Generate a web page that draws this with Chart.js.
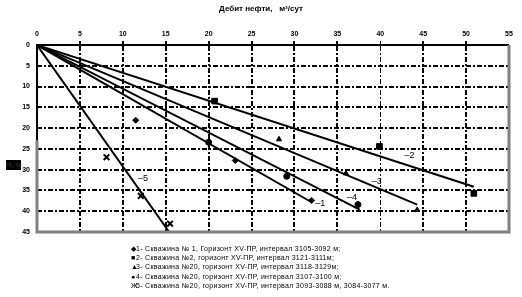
<!DOCTYPE html>
<html>
<head>
<meta charset="utf-8">
<script src="https://cdn.jsdelivr.net/npm/chart.js@4/dist/chart.umd.min.js"></script>
<style>
  html, body { margin: 0; padding: 0; background: #fff; }
  #wrap { width: 522px; height: 297px; }
</style>
</head>
<body>
<div id="wrap"><canvas id="debitChart" width="522" height="297"></canvas></div>
<script>
// measured points (x = дебит, y = глубина)
const s1x = [0, 11.5, 23.1, 32.0];
const s1y = [0, 18.1, 27.8, 37.4];
const s2x = [0, 20.7, 39.9, 50.9];
const s2y = [0, 13.5, 24.4, 35.7];
const s3x = [0, 28.2, 36.0, 44.3];
const s3y = [0, 22.7, 30.9, 39.7];
const s4x = [0, 20.0, 29.1, 37.4];
const s4y = [0, 23.4, 31.6, 38.4];
const s5x = [0, 8.1, 12.1, 15.5];
const s5y = [0, 27.0, 36.3, 43.0];

// trend lines start at origin, end here
const trendEndX = [32.05, 50.9, 44.3, 37.6, 15.4];
const trendEndY = [37.9, 34.1, 38.4, 39.6, 45];
const trendLabels = ["\u20131", "\u20132", "\u20133", "\u20134", "\u20135"];
const trendLabelX = [33.0, 43.4, 39.6, 36.7, 12.35];
const trendLabelY = [38.2, 26.6, 32.9, 36.7, 32.1];

const xTicks = [0, 5, 10, 15, 20, 25, 30, 35, 40, 45, 50, 55];
const yTicks = [0, 5, 10, 15, 20, 25, 30, 35, 40, 45];

const chartTitle = "Дебит нефти,   м³/сут";
const yTitle = "Н, м";
const legendMarks = ["◆", "■", "▲", "●", "Ж"];
const legendTexts = [
  "1- Скважина № 1, Горизонт XV-ПР, интервал 3105-3092 м;",
  "2- Скважина №2, горизонт XV-ПР, интервал 3121-3111м;",
  "3- Скважина №20, горизонт XV-ПР, интервал 3118-3129м;",
  "4- Скважина №20, горизонт XV-ПР, интервал 3107-3100 м;",
  "5- Скважина №20, горизонт XV-ПР, интервал 3093-3088 м, 3084-3077 м."
];

const pts = (xs, ys) => xs.map((x, i) => ({ x: x, y: ys[i] }));
const markerStyles = ["rectRot", "rect", "triangle", "circle", "crossRot"];
const markerSizes = [3, 4, 3, 3, 4];
const series = [pts(s1x, s1y), pts(s2x, s2y), pts(s3x, s3y), pts(s4x, s4y), pts(s5x, s5y)];

const datasets = [];
trendEndX.forEach((x, i) => {
  datasets.push({
    type: "line",
    data: [{ x: 0, y: 0 }, { x: x, y: trendEndY[i] }],
    borderColor: "#000",
    borderWidth: 2,
    pointRadius: 0,
    fill: false
  });
});
series.forEach((d, i) => {
  datasets.push({
    data: d,
    pointStyle: markerStyles[i],
    pointRadius: markerSizes[i],
    pointBackgroundColor: "#000",
    pointBorderColor: "#000",
    pointBorderWidth: i === 4 ? 2 : 1,
    showLine: false
  });
});

const FONT = "'Liberation Sans', Arial, sans-serif";

const extras = {
  id: "extras",
  afterDraw(chart) {
    const { ctx, chartArea: a, scales: { x, y } } = chart;
    ctx.save();
    // grey frame right / bottom / lower left
    ctx.strokeStyle = "#808080";
    ctx.lineWidth = 3;
    ctx.beginPath();
    ctx.moveTo(a.right, a.top);
    ctx.lineTo(a.right, a.bottom);
    ctx.lineTo(a.left, a.bottom);
    ctx.lineTo(a.left, y.getPixelForValue(23));
    ctx.stroke();
    ctx.strokeStyle = "#000";
    ctx.lineWidth = 2;
    ctx.beginPath();
    ctx.moveTo(a.left, a.top);
    ctx.lineTo(a.left, y.getPixelForValue(23));
    ctx.stroke();

    // title
    ctx.fillStyle = "#000";
    ctx.font = "bold 8px " + FONT;
    ctx.textAlign = "center";
    ctx.textBaseline = "middle";
    ctx.fillText(chartTitle, 261, 9);

    // trend labels
    ctx.font = "9px " + FONT;
    trendLabels.forEach((t, i) => {
      ctx.fillText(t, x.getPixelForValue(trendLabelX[i]), y.getPixelForValue(trendLabelY[i]));
    });

    // y axis title (black box)
    ctx.fillRect(6, 160, 15, 10);
    ctx.font = "bold 8px " + FONT;
    ctx.fillStyle = "#222";
    ctx.fillText(yTitle, 13.5, 165);

    // legend
    ctx.fillStyle = "#000";
    ctx.textAlign = "left";
    ctx.font = "7px " + FONT;
    ctx.letterSpacing = "0.3px";
    legendTexts.forEach((t, i) => {
      const ly = 249 + i * 9.2;
      ctx.fillText(legendMarks[i], 131, ly);
      ctx.fillText(t, 136, ly);
    });
    ctx.restore();
  }
};

new Chart(document.getElementById("debitChart").getContext("2d"), {
  type: "scatter",
  data: { datasets: datasets },
  plugins: [extras],
  options: {
    responsive: false,
    animation: false,
    layout: { padding: { left: 0, right: 13, top: 0, bottom: 65 } },
    plugins: { legend: { display: false }, tooltip: { enabled: false }, title: { display: false } },
    scales: {
      x: {
        type: "linear",
        position: "top",
        min: 0,
        max: 55,
        afterBuildTicks: s => { s.ticks = xTicks.map(v => ({ value: v })); },
        afterFit: s => { s.height = 45; },
        ticks: {
          color: "#000",
          padding: 3,
          font: { size: 7, weight: "bold", family: FONT }
        },
        grid: {
          color: "#000",
          tickLength: 4,
          lineWidth: c => (c.tick && (c.tick.value === 0 || c.tick.value === 55)) ? 0 : (c.tick && c.tick.value === 40 ? 1 : 2)
        },
        border: { display: true, color: "#000", width: 2, dash: [5, 2, 2, 2] }
      },
      y: {
        type: "linear",
        reverse: true,
        min: 0,
        max: 45,
        afterBuildTicks: s => { s.ticks = yTicks.map(v => ({ value: v })); },
        afterFit: s => { s.width = 37; },
        ticks: {
          color: "#000",
          padding: 7,
          font: { size: 7, weight: "bold", family: FONT }
        },
        grid: {
          color: "#000",
          drawTicks: false,
          lineWidth: c => (c.tick && (c.tick.value === 0 || c.tick.value === 45)) ? 0 : 2
        },
        border: { display: false, dash: [5, 2, 2, 2] }
      }
    }
  }
});
</script>
</body>
</html>
